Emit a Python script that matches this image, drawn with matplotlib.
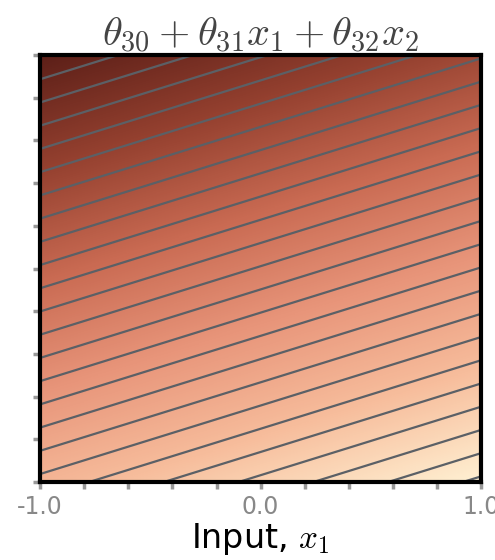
import numpy as np
import matplotlib.pyplot as plt
from matplotlib.colors import LinearSegmentedColormap

# parameters of the linear function theta_30 + theta_31 x1 + theta_32 x2
theta_30 = 0.31
theta_31 = 0.295
theta_32 = -0.92

x_ticks = [-1.0, -0.8, -0.6, -0.4, -0.2, 0.0, 0.2, 0.4, 0.6, 0.8, 1.0]
x_ticklabels = ["-1.0", "", "", "", "", "0.0", "", "", "", "", "1.0"]
y_ticks = [-1.0, -0.8, -0.6, -0.4, -0.2, 0.0, 0.2, 0.4, 0.6, 0.8, 1.0]
contour_levels = np.arange(-1.0, 1.6, 0.1)

cmap_colors = ["#5c1f18", "#94402f", "#c96a52", "#e8957a", "#f7bd9c", "#fff0d2"]
cmap = LinearSegmentedColormap.from_list("brown_cream", cmap_colors)

plt.rcParams["mathtext.fontset"] = "cm"

x1 = np.linspace(-1, 1, 400)
x2 = np.linspace(-1, 1, 400)
X1, X2 = np.meshgrid(x1, x2)
F = theta_30 + theta_31 * X1 + theta_32 * X2

fig = plt.figure(figsize=(4.95, 5.6), dpi=100)
ax = fig.add_axes([0.081, 0.139, 0.891, 0.763])

ax.imshow(F, origin="lower", extent=[-1, 1, -1, 1], cmap=cmap, aspect="auto",
          interpolation="bilinear")
ax.contour(X1, X2, F, levels=contour_levels, colors="#5b6066", linewidths=1.6,
           linestyles="solid")

ax.set_xlim(-1, 1)
ax.set_ylim(-1, 1)
ax.set_xticks(x_ticks)
ax.set_xticklabels(x_ticklabels)
ax.set_yticks(y_ticks)
ax.set_yticklabels([])
ax.tick_params(direction="out", length=5, width=2.5, color="#999999",
               labelcolor="#888888", labelsize=17, pad=4)
for s in ax.spines.values():
    s.set_linewidth(3)
    s.set_color("black")

ax.set_title(r"$\theta_{30}+\theta_{31}x_1+\theta_{32}x_2$", fontsize=29,
             color="#444444", pad=6)
ax.set_xlabel(r"Input, $x_1$", fontsize=24, labelpad=2)

fig.savefig("out.png", dpi=100)
